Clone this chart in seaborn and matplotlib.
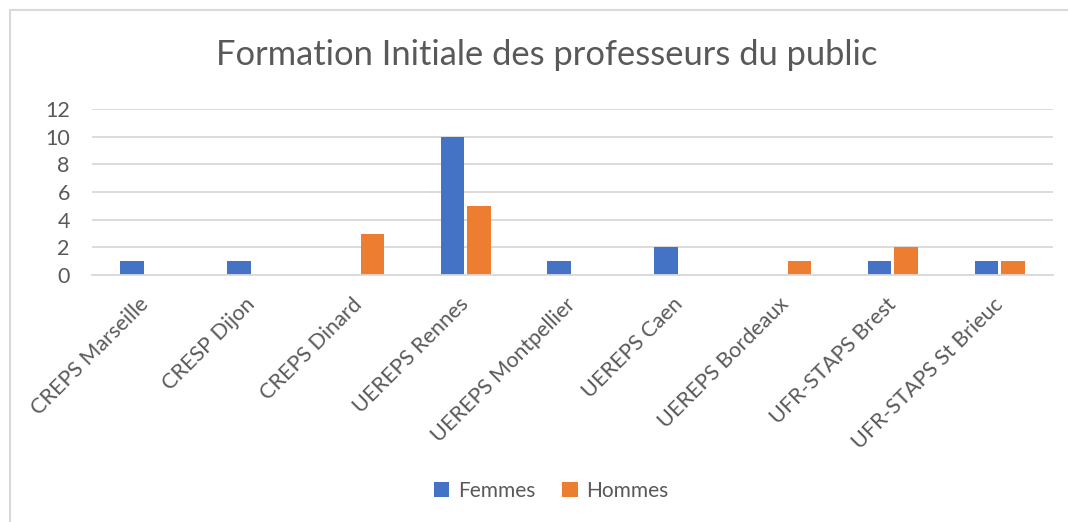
import pandas as pd
import seaborn as sns
import matplotlib.pyplot as plt
from matplotlib.patches import Rectangle

# data
etablissements = ['CREPS Marseille', 'CRESP Dijon', 'CREPS Dinard', 'UEREPS Rennes',
                  'UEREPS Montpellier', 'UEREPS Caen', 'UEREPS Bordeaux',
                  'UFR-STAPS Brest', 'UFR-STAPS St Brieuc']
femmes = [1, 1, 0, 10, 1, 2, 0, 1, 1]
hommes = [0, 0, 3, 5, 0, 0, 1, 2, 1]
series = ['Femmes', 'Hommes']
y_ticks = [0, 2, 4, 6, 8, 10, 12]

df = pd.DataFrame({
    'etablissement': etablissements * 2,
    'nombre': femmes + hommes,
    'sexe': [series[0]] * len(femmes) + [series[1]] * len(hommes),
})

sns.set_theme(style='white')
plt.rcParams['font.family'] = ['Lato', 'DejaVu Sans']
text_color = '#595959'
grid_color = '#d9d9d9'

fig = plt.figure(figsize=(10.68, 5.22), dpi=100)
ax = fig.add_axes([92 / 1068, 1 - 275 / 522, (1053 - 92) / 1068, (275 - 109) / 522])

sns.barplot(data=df, x='etablissement', y='nombre', hue='sexe',
            palette=['#4472C4', '#ED7D31'], saturation=1, width=0.5, gap=0.12,
            linewidth=0, ax=ax)

ax.set_ylim(0, 12)
ax.set_yticks(y_ticks)
ax.set_xlim(-0.5, len(etablissements) - 0.5)
ax.yaxis.grid(True, color=grid_color, linewidth=1.3)
ax.set_axisbelow(True)
for side in ['left', 'right', 'top']:
    ax.spines[side].set_visible(False)
ax.spines['bottom'].set_color(grid_color)
ax.spines['bottom'].set_linewidth(1.3)
ax.set_xlabel('')
ax.set_ylabel('')
ax.tick_params(axis='both', length=0, labelsize=15.5, colors=text_color)
ax.tick_params(axis='y', pad=16)
ax.tick_params(axis='x', pad=19)
plt.setp(ax.get_xticklabels(), rotation=45, ha='right', va='center',
         rotation_mode='anchor')

fig.suptitle('Formation Initiale des professeurs du public', x=547 / 1068,
             y=1 - 55 / 522, va='center', fontsize=24.8, color=text_color)

handles, labels = ax.get_legend_handles_labels()
ax.get_legend().remove()
leg = fig.legend(handles, labels, loc='center', bbox_to_anchor=(551 / 1068, 1 - 491 / 522),
                 ncol=2, frameon=False, fontsize=15, handlelength=0.75, handleheight=0.75,
                 handletextpad=0.4, columnspacing=1.3)
for t in leg.get_texts():
    t.set_color(text_color)

# light chart frame (partly cut off at right and bottom)
fig.patches.append(Rectangle((10 / 1068, -0.1), 1.2, 1.1 - 10 / 522, transform=fig.transFigure,
                             fill=False, edgecolor=grid_color, linewidth=1.5))

fig.savefig('out.png', dpi=100)
plt.close(fig)
